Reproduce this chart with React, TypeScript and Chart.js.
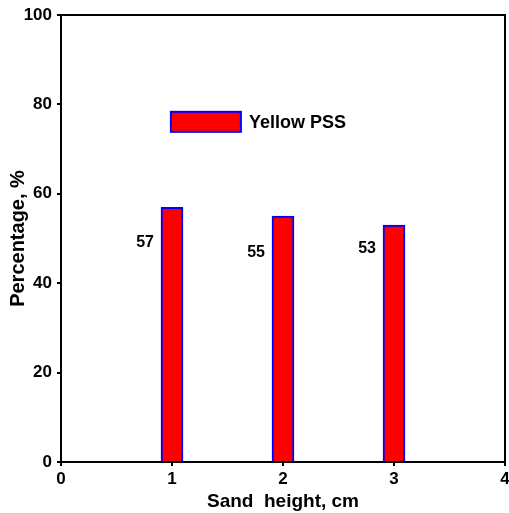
import React, { useEffect, useRef } from "react";
import { Chart, registerables } from "chart.js";

Chart.register(...registerables);

const xValues = [1, 2, 3];
const seriesValues = [57, 55, 53];
const labelTexts = ["57", "55", "53"];
const labelYValues = [49.1, 46.9, 47.8];
const seriesName = "Yellow PSS";
const xTitle = "Sand  height, cm";
const yTitle = "Percentage, %";

const FONT = "'Liberation Sans', Arial, sans-serif";

const framePlugin = {
  id: "frame",
  afterDraw(chart: any) {
    const { ctx, chartArea, scales } = chart;
    ctx.save();
    ctx.strokeStyle = "#000";
    ctx.lineWidth = 2;
    ctx.strokeRect(chartArea.left, chartArea.top, chartArea.right - chartArea.left, chartArea.bottom - chartArea.top);
    // value labels
    ctx.fillStyle = "#000";
    ctx.font = `bold 16px ${FONT}`;
    ctx.textAlign = "right";
    ctx.textBaseline = "middle";
    xValues.forEach((xv, i) => {
      const px = scales.x.getPixelForValue(xv) - 11 - 7;
      const py = scales.y.getPixelForValue(labelYValues[i]);
      ctx.fillText(labelTexts[i], px, py);
    });
    // legend inside plot
    const lx = scales.x.getPixelForValue(0.99);
    const ly = scales.y.getPixelForValue(76.1);
    ctx.fillStyle = "#FF0000";
    ctx.fillRect(lx, ly - 10, 70, 20);
    ctx.strokeStyle = "#0000FF";
    ctx.lineWidth = 2;
    ctx.strokeRect(lx, ly - 10, 70, 20);
    ctx.fillStyle = "#000";
    ctx.textAlign = "left";
    ctx.font = `bold 18px ${FONT}`;
    ctx.fillText(seriesName, lx + 78, ly + 1);
    ctx.restore();
  },
};

export default function App() {
  const ref = useRef<HTMLCanvasElement>(null);
  useEffect(() => {
    const canvas = ref.current!;
    const chart = new Chart(canvas, {
      type: "bar",
      data: {
        datasets: [
          {
            label: seriesName,
            data: xValues.map((x, i) => ({ x, y: seriesValues[i] })),
            backgroundColor: "#FF0000",
            borderColor: "#0000FF",
            borderWidth: 2,
            barThickness: 22,
          },
        ],
      },
      options: {
        animation: false,
        responsive: false,
        layout: { padding: { top: 15, right: 4, left: 0, bottom: 0 } },
        plugins: { legend: { display: false }, tooltip: { enabled: false } },
        scales: {
          x: {
            type: "linear",
            min: 0,
            max: 4,
            offset: false,
            grid: { offset: false, drawOnChartArea: false, drawTicks: true, tickLength: 4, color: "#000", lineWidth: 2 },
            border: { display: true, color: "#000", width: 2 },
            ticks: {
              stepSize: 1,
              color: "#000",
              padding: 3,
              font: { family: FONT, size: 17, weight: "bold" },
              maxRotation: 0,
            },
            title: {
              display: true,
              text: xTitle,
              color: "#000",
              font: { family: FONT, size: 19, weight: "bold" },
              padding: { top: 0, bottom: 0 },
            },
            afterFit(scale: any) {
              scale.height = 51;
              scale.paddingLeft = 0;
              scale.paddingRight = 0;
            },
          },
          y: {
            min: 0,
            max: 100,
            grid: { drawOnChartArea: false, drawTicks: true, tickLength: 4, color: "#000", lineWidth: 2 },
            border: { display: true, color: "#000", width: 2 },
            ticks: {
              stepSize: 20,
              color: "#000",
              padding: 5,
              font: { family: FONT, size: 17, weight: "bold" },
            },
            title: {
              display: true,
              text: yTitle,
              color: "#000",
              font: { family: FONT, size: 20, weight: "bold" },
              padding: { top: 6, bottom: 0 },
            },
            afterFit(scale: any) {
              scale.width = 61;
              scale.paddingTop = 0;
              scale.paddingBottom = 0;
            },
          },
        },
      },
      plugins: [framePlugin],
    } as any);
    return () => chart.destroy();
  }, []);
  return (
    <div style={{ position: "absolute", left: 0, top: 0, width: 509, height: 513, background: "#fff" }}>
      <canvas ref={ref} width={509} height={513} />
    </div>
  );
}
